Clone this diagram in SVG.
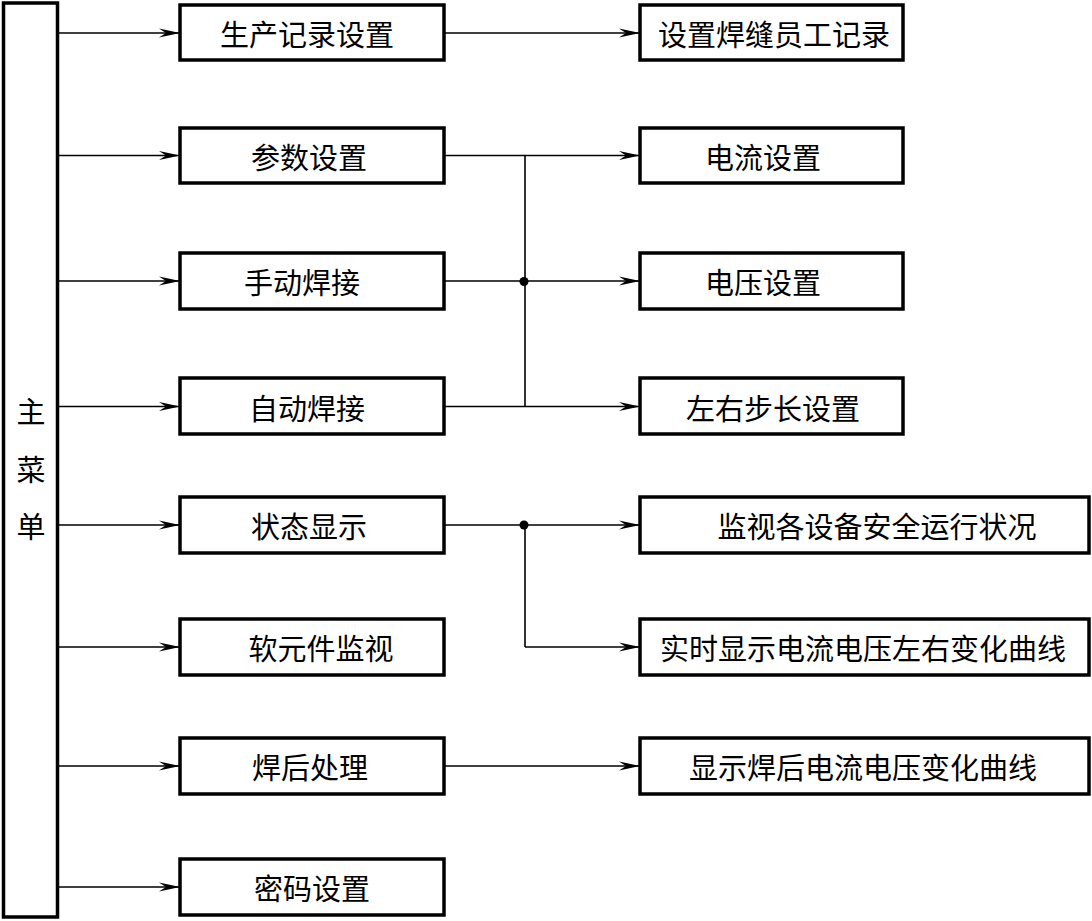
<svg xmlns="http://www.w3.org/2000/svg" width="1092" height="921" viewBox="0 0 1092 921">
<style>
.box{fill:#fff;stroke:#000;stroke-width:3.5}
.t{font-family:"Noto Sans CJK SC","Liberation Sans",sans-serif;font-size:29px;fill:#000;text-anchor:middle;dominant-baseline:central}
.ln{fill:none;stroke:#000;stroke-width:1.6}
.ar{fill:none;stroke:#000;stroke-width:1.6;marker-end:url(#ah)}
</style>
<defs>
<marker id="ah" markerWidth="22" markerHeight="10" refX="21" refY="5" orient="auto" markerUnits="userSpaceOnUse">
<path d="M0,0.5 L21,5 L0,9.5 L7,5 Z" fill="#000"/>
</marker>
</defs>
<rect width="1092" height="921" fill="#fff"/>
<g id="connectors">
<path class="ar" d="M58,33 H180"/>
<path class="ar" d="M58,155.5 H180"/>
<path class="ar" d="M58,281 H180"/>
<path class="ar" d="M58,406.5 H180"/>
<path class="ar" d="M58,525 H180"/>
<path class="ar" d="M58,647 H180"/>
<path class="ar" d="M58,766 H180"/>
<path class="ar" d="M58,887 H180"/>
<path class="ar" d="M444,33 H640"/>
<path class="ln" d="M444,155.5 H525 M444,281 H525 M444,406.5 H525 M525,155.5 V406.5"/>
<path class="ar" d="M525,155.5 H640"/>
<path class="ar" d="M525,281 H640"/>
<path class="ar" d="M525,406.5 H640"/>
<circle cx="524" cy="281.5" r="4.5" fill="#000"/>
<path class="ln" d="M444,525 H525 V647"/>
<path class="ar" d="M525,525 H640"/>
<path class="ar" d="M525,647 H640"/>
<circle cx="524" cy="525" r="4.5" fill="#000"/>
<path class="ar" d="M444,766 H640"/>
</g>
<g id="main">
<rect class="box" x="3.5" y="3" width="54" height="914"/>
<text class="t" x="31" y="410">主</text>
<text class="t" x="31" y="468">菜</text>
<text class="t" x="31" y="525">单</text>
</g>
<g id="n1"><rect class="box" x="180" y="5" width="264" height="55"/><text class="t" x="307" y="33">生产记录设置</text></g>
<g id="n2"><rect class="box" x="180" y="128" width="264" height="55"/><text class="t" x="309" y="155.5">参数设置</text></g>
<g id="n3"><rect class="box" x="180" y="253" width="264" height="56"/><text class="t" x="302" y="281">手动焊接</text></g>
<g id="n4"><rect class="box" x="180" y="378" width="264" height="56"/><text class="t" x="307" y="406.5">自动焊接</text></g>
<g id="n5"><rect class="box" x="180" y="497" width="264" height="56"/><text class="t" x="309" y="525">状态显示</text></g>
<g id="n6"><rect class="box" x="180" y="619" width="264" height="56"/><text class="t" x="321" y="647">软元件监视</text></g>
<g id="n7"><rect class="box" x="180" y="738" width="264" height="56"/><text class="t" x="310" y="766">焊后处理</text></g>
<g id="n8"><rect class="box" x="180" y="859" width="264" height="56"/><text class="t" x="312" y="887">密码设置</text></g>
<g id="r1"><rect class="box" x="640" y="5" width="263" height="55"/><text class="t" x="774" y="33">设置焊缝员工记录</text></g>
<g id="r2"><rect class="box" x="640" y="128" width="263" height="55"/><text class="t" x="763" y="155.5">电流设置</text></g>
<g id="r3"><rect class="box" x="640" y="253" width="263" height="56"/><text class="t" x="763" y="281">电压设置</text></g>
<g id="r4"><rect class="box" x="640" y="378" width="263" height="56"/><text class="t" x="773" y="406.5">左右步长设置</text></g>
<g id="r5"><rect class="box" x="640" y="497" width="449" height="56"/><text class="t" x="877" y="525">监视各设备安全运行状况</text></g>
<g id="r6"><rect class="box" x="640" y="619" width="449" height="56"/><text class="t" x="863" y="647">实时显示电流电压左右变化曲线</text></g>
<g id="r7"><rect class="box" x="640" y="738" width="449" height="56"/><text class="t" x="863" y="766">显示焊后电流电压变化曲线</text></g>
</svg>
